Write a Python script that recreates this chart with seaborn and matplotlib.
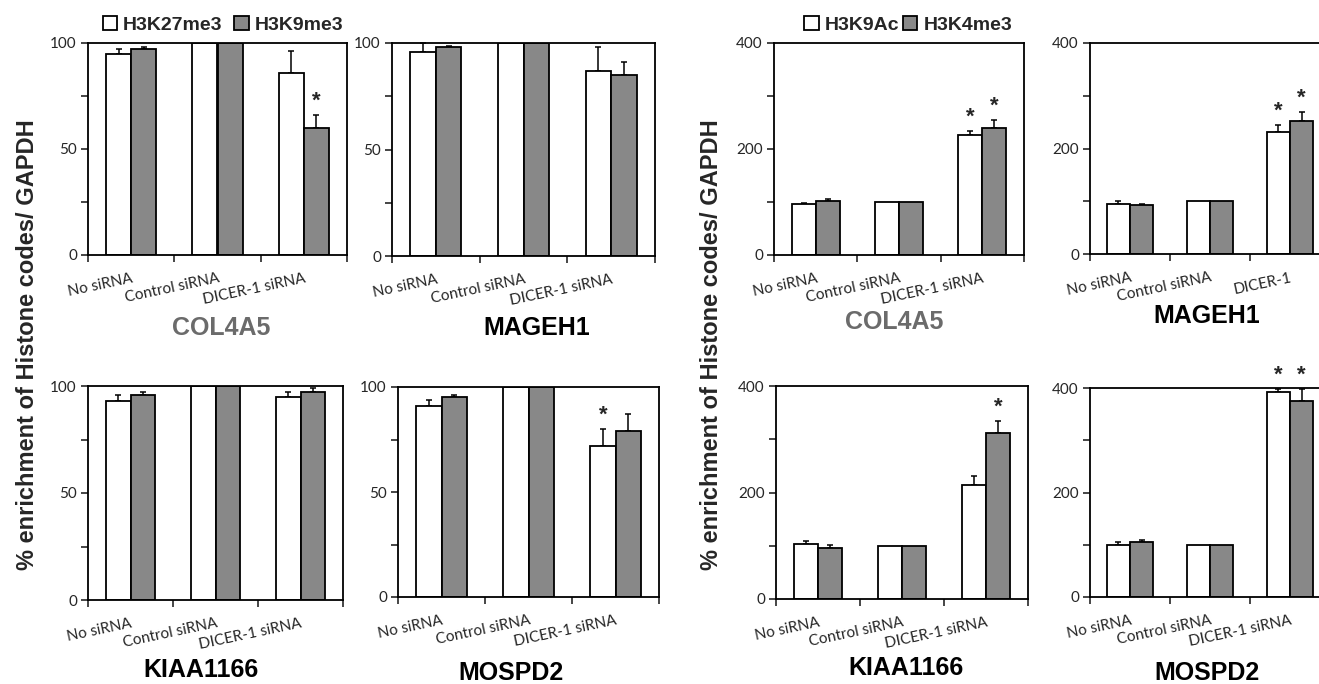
import numpy as np
import pandas as pd
import matplotlib
matplotlib.use("Agg")
import matplotlib.pyplot as plt
from matplotlib.container import BarContainer
import seaborn as sns

sns.set_theme(style="ticks")
plt.rcParams['font.family'] = ['Liberation Sans', 'DejaVu Sans']

treatments = ["No siRNA", "Control siRNA", "DICER-1 siRNA"]
genes = ["COL4A5", "MAGEH1", "KIAA1166", "MOSPD2"]
rep_marks = ["H3K27me3", "H3K9me3"]
act_marks = ["H3K9Ac", "H3K4me3"]

# repressive marks, one row per gene (No / Control / DICER-1)
k27me3 = [[95, 100, 86], [96, 100, 87], [93, 100, 95], [91, 100, 72]]
k27me3_err = [[2, 0, 10], [4, 0, 11], [3, 0, 2], [3, 0, 8]]
k9me3 = [[97, 100, 60], [98, 100, 85], [96, 100, 97], [95, 100, 79]]
k9me3_err = [[1, 0, 6], [0.5, 0, 6], [1, 0, 2], [1, 0, 8]]

# active marks
k9ac = [[96, 100, 226], [95, 100, 231], [104, 100, 215], [99, 100, 392]]
k9ac_err = [[3, 0, 8], [5, 0, 14], [4, 0, 16], [6, 0, 6]]
k4me3 = [[102, 100, 240], [93, 100, 252], [96, 100, 311], [105, 100, 376]]
k4me3_err = [[3, 0, 14], [1, 0, 17], [5, 0, 23], [4, 0, 22]]

# (gene, mark, treatment) that carry a "*"
rep_stars = [(0, 1, 2), (3, 0, 2)]
act_stars = [(0, 0, 2), (0, 1, 2), (1, 0, 2), (1, 1, 2), (2, 1, 2), (3, 0, 2), (3, 1, 2)]

W, H = 1319, 684
fig = plt.figure(figsize=(W / 100, H / 100), dpi=100)

def px(x0, y0, x1, y1):
    return [x0 / W, 1 - y1 / H, (x1 - x0) / W, (y1 - y0) / H]

rep_boxes = [px(88, 43, 347, 255), px(392, 43, 655, 256),
             px(88, 386, 343, 600), px(398, 387, 659, 597)]
act_boxes = [px(774, 43, 1024, 255), px(1090, 43, 1330, 254),
             px(776, 386, 1028, 599), px(1090, 388, 1330, 597)]
rep_titles = [(221, 328), (537, 328), (201, 670), (511, 673)]
act_titles = [(894, 322), (1207, 316), (906, 668), (1207, 673)]

grey = "#888888"
tick_font = "Lato"


def panel(box, means, errs, marks, top, stars, gi, labels):
    ax = fig.add_axes(box)
    df = pd.DataFrame({
        "treatment": treatments * 2,
        "mark": [marks[0]] * 3 + [marks[1]] * 3,
        "value": list(means[0]) + list(means[1]),
    })
    sns.barplot(data=df, x="treatment", y="value", hue="mark", order=treatments,
                hue_order=marks, palette=["white", grey], edgecolor="black",
                linewidth=1.3, width=0.58, errorbar=None, ax=ax, zorder=2)
    bar_conts = [c for c in ax.containers if isinstance(c, BarContainer)]
    for h, cont in enumerate(bar_conts):
        for t, bar in enumerate(cont.patches):
            xc = bar.get_x() + bar.get_width() / 2
            yt = bar.get_height()
            if errs[h][t] > 0:
                ax.errorbar(xc, yt, yerr=[[0], [errs[h][t]]], fmt="none",
                            ecolor="black", elinewidth=1.1, capsize=2.5,
                            capthick=1.1, zorder=1, clip_on=False)
            if (gi, h, t) in stars:
                ax.annotate("*", (xc, yt + errs[h][t]), xytext=(0, 10),
                            textcoords="offset points", ha="center", va="center",
                            fontsize=16, fontweight="bold", annotation_clip=False)
    handles, lab = ax.get_legend_handles_labels()
    if ax.get_legend() is not None:
        ax.get_legend().remove()
    ax.set_xlim(-0.5, 2.5)
    ax.set_ylim(0, top)
    ax.set_yticks([0, top / 2, top])
    ax.set_yticklabels([0, int(top / 2), int(top)], fontsize=11, family=tick_font)
    ax.set_yticks([top / 4, 3 * top / 4], minor=True)
    ax.set_xticks([0, 1, 2])
    ax.set_xticklabels(labels, rotation=12, ha="right", rotation_mode="anchor",
                       fontsize=11, family=tick_font)
    ax.set_xticks([-0.5, 0.5, 1.5, 2.5], minor=True)
    ax.tick_params(axis="x", which="major", length=0, pad=12)
    ax.tick_params(axis="x", which="minor", length=5, width=1.2, direction="out")
    ax.tick_params(axis="y", which="both", length=5, width=1.2, direction="out", pad=3)
    ax.set_xlabel("")
    ax.set_ylabel("")
    for s in ax.spines.values():
        s.set_color("black")
        s.set_linewidth(1.3)
    return ax, handles, lab


for gi in range(4):
    means = [k27me3[gi], k9me3[gi]]
    errs = [k27me3_err[gi], k9me3_err[gi]]
    ax, rep_h, rep_l = panel(rep_boxes[gi], means, errs, rep_marks, 100, rep_stars, gi, treatments)
    fig.text(rep_titles[gi][0] / W, 1 - rep_titles[gi][1] / H, genes[gi],
             ha="center", va="center", fontsize=18, fontweight="bold",
             color="#6b6b6b" if gi == 0 else "black")

for gi in range(4):
    means = [k9ac[gi], k4me3[gi]]
    errs = [k9ac_err[gi], k4me3_err[gi]]
    labels = treatments if gi != 1 else ["No siRNA", "Control siRNA", "DICER-1"]
    ax, act_h, act_l = panel(act_boxes[gi], means, errs, act_marks, 400, act_stars, gi, labels)
    fig.text(act_titles[gi][0] / W, 1 - act_titles[gi][1] / H, genes[gi],
             ha="center", va="center", fontsize=18, fontweight="bold",
             color="#6b6b6b" if gi == 0 else "black")

ylab = "% enrichment of Histone codes/ GAPDH"
fig.text(28 / W, 1 - 345 / H, ylab, rotation=90, ha="center", va="center",
         fontsize=17, fontweight="bold")
fig.text(712 / W, 1 - 345 / H, ylab, rotation=90, ha="center", va="center",
         fontsize=17, fontweight="bold")

fig.legend(rep_h, rep_l, loc="center", bbox_to_anchor=(223 / W, 1 - 25 / H),
           ncol=2, frameon=False, handlelength=0.75, handleheight=0.75,
           handletextpad=0.3, columnspacing=0.6, borderpad=0,
           prop={"weight": "bold", "size": 14})
fig.legend(act_h, act_l, loc="center", bbox_to_anchor=(908 / W, 1 - 25 / H),
           ncol=2, frameon=False, handlelength=0.75, handleheight=0.75,
           handletextpad=0.3, columnspacing=0.2, borderpad=0,
           prop={"weight": "bold", "size": 14})

fig.savefig("out.png", dpi=100, facecolor="white")
